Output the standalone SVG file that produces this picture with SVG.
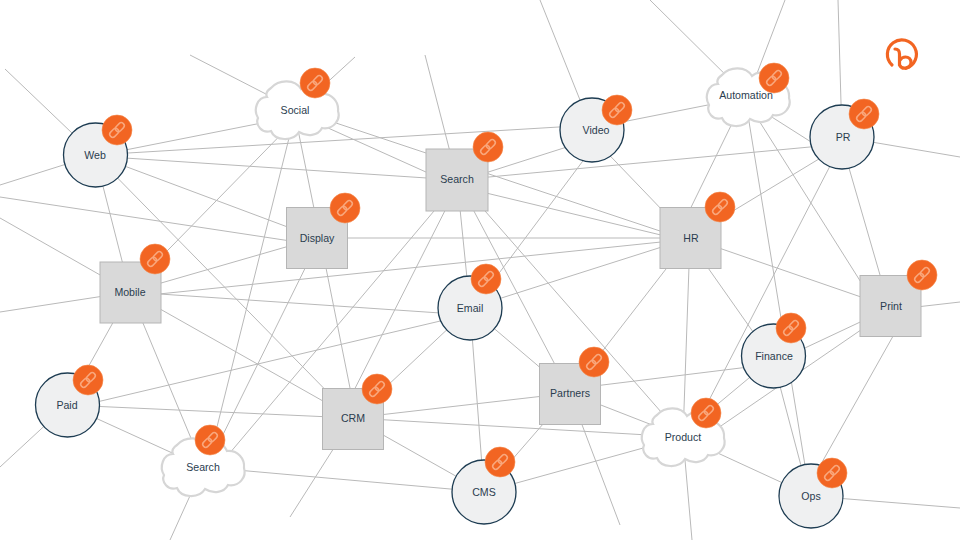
<svg xmlns="http://www.w3.org/2000/svg" width="960" height="540" viewBox="0 0 960 540">
<style>
text{font-family:"Liberation Sans",Arial,sans-serif;font-size:10.6px;fill:#2b3d4f;text-anchor:middle}
.e line{stroke:#b9b9b9;stroke-width:1}
.c{fill:#eff0f1;stroke:#1d3c52;stroke-width:1.3}
.s{fill:#d9d9d9;stroke:#b5b5b5;stroke-width:1}
.k{fill:#fff;stroke:#d6d6d6;stroke-width:2.2}
.b{fill:#f26522;stroke:#f58a4e;stroke-width:.6}
.l{fill:none;stroke:#f9a77c;stroke-width:1.5;stroke-linecap:round}
</style>
<defs>
<path id="cloud" d="M-26-22C-18-31-2-31 4-21C10-27 20-25 24-16C35-17 42-8 41 1C44 10 36 20 25 18C21 26 10 27 2 22C-4 32-22 31-26 21C-35 24-42 15-39 8C-44 0-40-13-30-13C-32-17-29-20-26-22Z"/>
<g id="badge"><circle class="b" r="15"/><g class="l" transform="rotate(-45)"><rect x="-9" y="-3" width="10" height="6" rx="3"/><rect x="-1" y="-3" width="10" height="6" rx="3"/></g></g>
</defs>
<g id="connectors" class="e">
<line x1="5" y1="69" x2="95" y2="155"/><line x1="0" y1="185" x2="95" y2="155"/><line x1="95" y1="156" x2="297" y2="116"/><line x1="95" y1="155" x2="592" y2="125"/><line x1="95" y1="156" x2="457" y2="180"/><line x1="95" y1="155" x2="130" y2="292"/><line x1="95" y1="155" x2="317" y2="238"/><line x1="95" y1="155" x2="353" y2="418"/>
<line x1="190" y1="55" x2="297" y2="110"/><line x1="355" y1="57" x2="297" y2="110"/><line x1="297" y1="114" x2="457" y2="186"/><line x1="297" y1="110" x2="690" y2="241"/><line x1="296" y1="110" x2="207" y2="467"/><line x1="305" y1="110" x2="127" y2="292"/><line x1="294" y1="110" x2="320" y2="238"/>
<line x1="425" y1="55" x2="457" y2="179"/><line x1="457" y1="182" x2="592" y2="139"/><line x1="457" y1="186" x2="690" y2="242"/><line x1="457" y1="180" x2="842" y2="144"/><line x1="457" y1="179" x2="470" y2="308"/><line x1="461" y1="179" x2="340" y2="418"/><line x1="457" y1="179" x2="570" y2="393"/><line x1="457" y1="179" x2="683" y2="437"/><line x1="461" y1="179" x2="218" y2="467"/>
<line x1="540" y1="0" x2="592" y2="130"/><line x1="592" y1="128" x2="748" y2="97"/><line x1="592" y1="137" x2="690" y2="239"/><line x1="606" y1="130" x2="473" y2="308"/>
<line x1="650" y1="0" x2="748" y2="97"/><line x1="785" y1="0" x2="748" y2="97"/><line x1="745" y1="97" x2="676" y2="238"/><line x1="745" y1="100" x2="830" y2="154"/><line x1="744" y1="97" x2="876" y2="306"/><line x1="745" y1="97" x2="810" y2="496"/>
<line x1="838" y1="0" x2="842" y2="137"/><line x1="960" y1="157" x2="842" y2="137"/><line x1="840" y1="137" x2="889" y2="306"/><line x1="842" y1="145" x2="690" y2="237"/><line x1="845" y1="137" x2="690" y2="437"/>
<line x1="690" y1="238" x2="317" y2="238"/><line x1="690" y1="239" x2="130" y2="297"/><line x1="690" y1="238" x2="470" y2="308"/><line x1="690" y1="238" x2="570" y2="393"/><line x1="690" y1="238" x2="683" y2="437"/><line x1="687" y1="238" x2="770" y2="356"/><line x1="690" y1="238" x2="890" y2="307"/>
<line x1="0" y1="197" x2="317" y2="245"/><line x1="0" y1="218" x2="130" y2="292"/><line x1="0" y1="312" x2="130" y2="292"/><line x1="130" y1="292" x2="67" y2="405"/><line x1="130" y1="292" x2="203" y2="467"/><line x1="130" y1="292" x2="353" y2="418"/><line x1="130" y1="292" x2="470" y2="315"/><line x1="130" y1="292" x2="317" y2="238"/>
<line x1="320" y1="238" x2="356" y2="418"/><line x1="320" y1="238" x2="207" y2="467"/>
<line x1="470" y1="314" x2="67" y2="409"/><line x1="470" y1="308" x2="353" y2="418"/><line x1="470" y1="308" x2="484" y2="492"/><line x1="470" y1="308" x2="570" y2="393"/>
<line x1="960" y1="302" x2="890" y2="310"/><line x1="890" y1="308" x2="773" y2="363"/><line x1="890" y1="310" x2="683" y2="452"/><line x1="910" y1="306" x2="803" y2="496"/>
<line x1="773" y1="364" x2="570" y2="389"/><line x1="773" y1="358" x2="683" y2="433"/><line x1="772" y1="356" x2="809" y2="496"/>
<line x1="0" y1="467" x2="67" y2="405"/><line x1="67" y1="405" x2="203" y2="467"/><line x1="67" y1="405" x2="353" y2="418"/>
<line x1="290" y1="517" x2="353" y2="418"/><line x1="353" y1="418" x2="484" y2="492"/><line x1="353" y1="418" x2="570" y2="393"/><line x1="353" y1="418" x2="683" y2="437"/>
<line x1="620" y1="525" x2="570" y2="393"/><line x1="570" y1="393" x2="484" y2="492"/><line x1="570" y1="393" x2="683" y2="437"/>
<line x1="692" y1="540" x2="683" y2="437"/><line x1="683" y1="437" x2="811" y2="496"/><line x1="683" y1="437" x2="484" y2="492"/>
<line x1="170" y1="540" x2="203" y2="467"/><line x1="203" y1="467" x2="484" y2="492"/>
<line x1="960" y1="508" x2="811" y2="496"/>
</g>
<g id="n-web"><circle class="c" cx="95.500" cy="155" r="32"/><text x="95" y="159">Web</text><use href="#badge" x="117" y="130"/></g>
<g id="n-social"><use href="#cloud" class="k" x="297" y="110"/><text x="295" y="114">Social</text><use href="#badge" x="315" y="83"/></g>
<g id="n-search-square"><rect class="s" x="426" y="149" width="62" height="62"/><text x="457" y="183">Search</text><use href="#badge" x="488" y="147"/></g>
<g id="n-video"><circle class="c" cx="592" cy="130" r="32"/><text x="596" y="134">Video</text><use href="#badge" x="617" y="110"/></g>
<g id="n-automation"><use href="#cloud" class="k" x="748" y="97"/><text x="746" y="99">Automation</text><use href="#badge" x="774" y="78"/></g>
<g id="n-pr"><circle class="c" cx="842" cy="137" r="32"/><text x="843" y="141">PR</text><use href="#badge" x="864" y="114"/></g>
<g id="n-display"><rect class="s" x="286.500" y="207.500" width="61" height="61"/><text x="317" y="242">Display</text><use href="#badge" x="345" y="208"/></g>
<g id="n-hr"><rect class="s" x="660" y="207.500" width="61" height="61"/><text x="691" y="242">HR</text><use href="#badge" x="720" y="207"/></g>
<g id="n-mobile"><rect class="s" x="100" y="262" width="61" height="61"/><text x="130" y="296">Mobile</text><use href="#badge" x="155" y="259"/></g>
<g id="n-email"><circle class="c" cx="470" cy="308" r="32"/><text x="470" y="312">Email</text><use href="#badge" x="486" y="279"/></g>
<g id="n-print"><rect class="s" x="860" y="275.500" width="61" height="61"/><text x="891" y="310">Print</text><use href="#badge" x="922" y="275"/></g>
<g id="n-finance"><circle class="c" cx="773.500" cy="356" r="32"/><text x="774" y="360">Finance</text><use href="#badge" x="791" y="328"/></g>
<g id="n-paid"><circle class="c" cx="67.500" cy="405" r="32"/><text x="67" y="409">Paid</text><use href="#badge" x="88" y="380"/></g>
<g id="n-crm"><rect class="s" x="322.500" y="388.500" width="61" height="61"/><text x="353" y="422">CRM</text><use href="#badge" x="377" y="389"/></g>
<g id="n-partners"><rect class="s" x="539.500" y="363.500" width="61" height="61"/><text x="570" y="397">Partners</text><use href="#badge" x="594" y="362"/></g>
<g id="n-product"><use href="#cloud" class="k" x="683" y="437"/><text x="683" y="441">Product</text><use href="#badge" x="706" y="413"/></g>
<g id="n-search-cloud"><use href="#cloud" class="k" x="203" y="467"/><text x="203" y="471">Search</text><use href="#badge" x="210" y="440"/></g>
<g id="n-cms"><circle class="c" cx="484" cy="492" r="32"/><text x="484" y="496">CMS</text><use href="#badge" x="500" y="462"/></g>
<g id="n-ops"><circle class="c" cx="811" cy="496" r="32"/><text x="811" y="500">Ops</text><use href="#badge" x="832" y="473"/></g>
<g id="logo" fill="none" stroke="#f26522" stroke-width="3.200" stroke-linecap="round"><path d="M892 65A14.500 14.500 0 1 1 906 68.300"/><path d="M895 49C898 49 899.500 51 899.500 54L899.500 65C901 68 904 68.500 906 68C909.500 67 911 65 911 62.500C911 59 908.500 57 905.500 57C903 57 901 58.500 900 60"/></g>
</svg>
